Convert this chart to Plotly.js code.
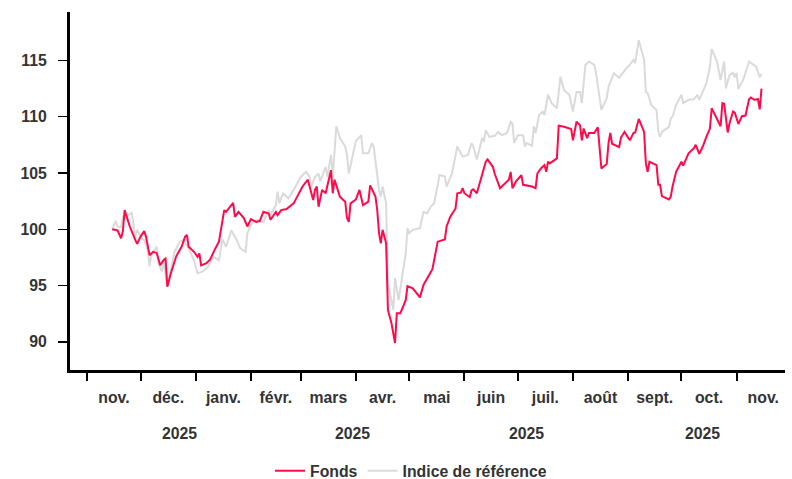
<!DOCTYPE html>
<html>
<head>
<meta charset="utf-8">
<script src="https://cdn.plot.ly/plotly-3.0.1.min.js"></script>
<style>html,body{margin:0;padding:0;background:#fff;}#chart{width:792px;height:479px;}</style>
</head>
<body>
<div id="chart"></div>
<script>
// ---- Data ----
const fondsDates = [
"2024-11-15","2024-11-18","2024-11-20","2024-11-21","2024-11-22","2024-11-25","2024-11-28","2024-11-29",
"2024-12-01","2024-12-03","2024-12-04","2024-12-06","2024-12-08","2024-12-10","2024-12-12","2024-12-14",
"2024-12-15","2024-12-16","2024-12-18","2024-12-21","2024-12-24","2024-12-26","2024-12-27","2024-12-28",
"2024-12-31","2025-01-02","2025-01-03","2025-01-04","2025-01-07","2025-01-09","2025-01-12","2025-01-14",
"2025-01-17","2025-01-18","2025-01-22","2025-01-23","2025-01-25","2025-01-28","2025-01-30","2025-02-01",
"2025-02-04","2025-02-06","2025-02-08","2025-02-11","2025-02-12","2025-02-15","2025-02-16","2025-02-18",
"2025-02-21","2025-02-25","2025-02-27","2025-03-02","2025-03-05","2025-03-07","2025-03-08","2025-03-09",
"2025-03-10","2025-03-11","2025-03-13","2025-03-15","2025-03-18","2025-03-19","2025-03-20","2025-03-21",
"2025-03-23","2025-03-26","2025-03-27","2025-03-28","2025-03-29","2025-04-01","2025-04-03","2025-04-05",
"2025-04-08","2025-04-09","2025-04-12","2025-04-13","2025-04-14","2025-04-15","2025-04-16","2025-04-18",
"2025-04-19","2025-04-21","2025-04-23","2025-04-24","2025-04-26","2025-04-29","2025-04-30","2025-05-03",
"2025-05-07","2025-05-09","2025-05-14","2025-05-17","2025-05-21","2025-05-22","2025-05-24","2025-05-27",
"2025-05-28","2025-05-30","2025-05-31","2025-06-01","2025-06-04","2025-06-05","2025-06-06","2025-06-08",
"2025-06-11","2025-06-13","2025-06-14","2025-06-17","2025-06-18","2025-06-21","2025-06-26","2025-06-27",
"2025-06-28","2025-06-30","2025-07-03","2025-07-04","2025-07-09","2025-07-11","2025-07-12","2025-07-14",
"2025-07-16","2025-07-17","2025-07-18","2025-07-19","2025-07-23","2025-07-24","2025-07-27","2025-07-31",
"2025-08-01","2025-08-03","2025-08-05","2025-08-06","2025-08-07","2025-08-09","2025-08-10","2025-08-13",
"2025-08-15","2025-08-17","2025-08-20","2025-08-21","2025-08-22","2025-08-23","2025-08-27","2025-08-28",
"2025-08-30","2025-09-02","2025-09-04","2025-09-05","2025-09-07","2025-09-10","2025-09-11","2025-09-12",
"2025-09-13","2025-09-17","2025-09-18","2025-09-19","2025-09-20","2025-09-24","2025-09-25","2025-09-26",
"2025-09-28","2025-10-01","2025-10-02","2025-10-05","2025-10-08","2025-10-09","2025-10-11","2025-10-13",
"2025-10-15","2025-10-17","2025-10-18","2025-10-21","2025-10-23","2025-10-24","2025-10-25","2025-10-27",
"2025-10-28","2025-10-30","2025-10-31","2025-11-02","2025-11-04","2025-11-06","2025-11-08","2025-11-09",
"2025-11-11","2025-11-13","2025-11-14","2025-11-15"
];
const fondsValues = [
100.0,99.9,99.2,99.8,101.7,100.2,99.05,98.7,
99.35,99.85,99.35,97.7,98.0,97.9,96.8,97.3,
97.4,94.9,96.1,97.6,98.45,99.35,99.5,98.45,
98.0,97.55,97.85,96.8,97.0,97.3,98.3,98.9,
101.7,101.55,102.35,101.1,101.55,101.0,100.25,100.9,
100.65,100.75,101.55,101.4,100.85,101.55,101.25,101.7,
101.8,102.3,102.9,103.8,104.4,103.2,102.6,103.5,
103.8,102.0,103.5,103.2,105.25,103.2,104.4,103.9,
102.9,102.45,101.0,100.65,102.3,102.65,103.5,102.15,
102.45,103.9,102.9,101.7,99.65,98.75,99.95,98.75,
92.85,91.65,89.9,92.55,92.55,93.7,94.95,94.75,
93.95,95.05,96.45,98.9,99.1,100.25,101.1,101.85,
103.2,103.25,103.65,103.2,102.85,103.45,103.55,103.2,
104.95,106.0,106.2,105.55,104.95,103.65,104.4,105.1,
103.65,104.25,104.8,103.95,103.8,103.65,104.95,105.4,
105.7,105.1,106.0,105.85,106.3,109.2,109.1,108.9,
107.9,109.55,109.25,107.9,108.95,108.1,108.55,108.55,
109.05,105.4,105.8,107.65,108.55,107.6,107.3,108.15,
108.65,107.9,108.55,108.6,109.8,108.65,105.85,105.1,
106.0,105.7,103.95,103.95,102.95,102.65,102.9,103.8,
105.1,106.0,105.65,106.75,107.2,107.5,106.7,107.35,
108.2,108.95,110.75,109.85,109.15,111.2,111.15,108.6,
109.4,110.45,110.35,109.35,110.05,110.1,111.55,111.7,
111.5,111.55,110.65,112.5
];

const indexDates = [
"2024-11-15","2024-11-17","2024-11-18","2024-11-20","2024-11-21","2024-11-23","2024-11-24","2024-11-26",
"2024-11-28","2024-11-29","2024-12-02","2024-12-03","2024-12-05","2024-12-06","2024-12-07","2024-12-10",
"2024-12-11","2024-12-13","2024-12-14","2024-12-16","2024-12-18","2024-12-20","2024-12-23","2024-12-25",
"2024-12-28","2024-12-31","2025-01-02","2025-01-05","2025-01-08","2025-01-11","2025-01-14","2025-01-16",
"2025-01-18","2025-01-21","2025-01-24","2025-01-26","2025-01-29","2025-01-30","2025-02-01","2025-02-02",
"2025-02-05","2025-02-06","2025-02-08","2025-02-11","2025-02-12","2025-02-15","2025-02-16","2025-02-17",
"2025-02-19","2025-02-22","2025-02-25","2025-03-01","2025-03-04","2025-03-06","2025-03-07","2025-03-09",
"2025-03-11","2025-03-12","2025-03-15","2025-03-16","2025-03-18","2025-03-19","2025-03-21","2025-03-23",
"2025-03-26","2025-03-27","2025-03-28","2025-03-30","2025-04-01","2025-04-04","2025-04-05","2025-04-08",
"2025-04-10","2025-04-11","2025-04-14","2025-04-15","2025-04-16","2025-04-18","2025-04-19","2025-04-22",
"2025-04-23","2025-04-25","2025-04-27","2025-04-29","2025-04-30","2025-05-01","2025-05-03","2025-05-07",
"2025-05-09","2025-05-11","2025-05-13","2025-05-15","2025-05-18","2025-05-21","2025-05-22","2025-05-25",
"2025-05-28","2025-05-30","2025-05-31","2025-06-03","2025-06-05","2025-06-06","2025-06-08","2025-06-11",
"2025-06-12","2025-06-13","2025-06-15","2025-06-18","2025-06-20","2025-06-22","2025-06-25","2025-06-27",
"2025-06-28","2025-06-29","2025-07-01","2025-07-04","2025-07-05","2025-07-06","2025-07-09","2025-07-10",
"2025-07-11","2025-07-13","2025-07-15","2025-07-16","2025-07-18","2025-07-20","2025-07-23","2025-07-25",
"2025-07-27","2025-07-30","2025-08-01","2025-08-03","2025-08-05","2025-08-06","2025-08-08","2025-08-10",
"2025-08-13","2025-08-14","2025-08-17","2025-08-20","2025-08-21","2025-08-24","2025-08-27","2025-08-31",
"2025-09-02","2025-09-04","2025-09-05","2025-09-07","2025-09-10","2025-09-11","2025-09-12","2025-09-14",
"2025-09-17","2025-09-18","2025-09-19","2025-09-20","2025-09-24","2025-09-25","2025-09-26","2025-09-28",
"2025-10-01","2025-10-02","2025-10-05","2025-10-08","2025-10-10","2025-10-11","2025-10-15","2025-10-17",
"2025-10-18","2025-10-21","2025-10-23","2025-10-25","2025-10-26","2025-10-28","2025-10-30","2025-10-31",
"2025-11-01","2025-11-02","2025-11-05","2025-11-08","2025-11-12","2025-11-14","2025-11-15"
];
const indexValues = [
100.0,100.75,100.25,100.2,101.1,101.05,101.25,101.45,
99.35,99.95,99.1,99.05,98.15,96.7,97.7,98.45,
97.0,96.25,97.25,94.95,96.4,98.0,98.9,99.05,
98.3,97.25,96.1,96.25,96.7,97.55,97.25,99.1,
98.45,99.9,99.05,98.3,98.0,99.65,100.4,100.55,
100.85,100.65,100.65,101.7,101.25,102.15,103.35,102.3,
103.2,102.75,103.5,104.65,105.1,104.65,103.8,104.65,
104.95,104.25,105.55,104.65,106.6,104.65,109.15,108.1,
107.35,106.6,104.95,106.45,107.85,108.35,106.75,106.75,
107.65,107.35,103.5,102.9,103.8,102.3,95.2,92.85,
95.65,93.7,95.8,97.85,100.1,99.65,99.95,100.1,
101.55,101.4,102.0,102.3,104.8,104.7,103.8,104.95,
107.35,106.75,106.45,106.6,107.65,107.35,106.2,108.1,
107.8,108.8,108.2,108.3,108.65,108.35,108.55,109.55,
109.4,107.65,108.35,108.35,107.35,107.65,107.4,109.15,
108.55,110.15,110.45,110.15,111.95,111.2,110.75,113.55,
112.35,111.95,110.45,112.2,112.2,111.2,114.6,114.9,
114.6,113.85,110.6,111.65,112.65,113.85,113.45,114.3,
114.6,115.05,114.75,116.8,115.05,112.2,112.1,111.05,
110.6,108.65,108.2,108.65,109.1,109.85,110.0,111.05,
111.95,111.2,111.5,111.55,111.95,111.5,112.95,114.45,
116.0,114.9,113.25,114.9,112.5,113.7,113.9,113.5,
113.9,112.45,113.4,114.9,114.45,113.5,113.8
];

// Axis ticks / labels
const monthStarts = ["2024-11-01","2024-12-01","2025-01-01","2025-02-01","2025-03-01","2025-04-01","2025-05-01",
  "2025-06-01","2025-07-01","2025-08-01","2025-09-01","2025-10-01","2025-11-01","2025-12-01"];
const monthLabels = ["nov.","déc.","janv.","févr.","mars","avr.","mai","juin","juil.","août","sept.","oct.","nov."];
const yearLabel = "2025";
const yearLabelDates = ["2024-12-23","2025-03-30","2025-07-06","2025-10-13"];
const yTicks = [90, 95, 100, 105, 110, 115];

// mid-month label positions (centre of each month period)
function mid(a, b) {
  const t = (new Date(a + "T00:00:00Z").getTime() + new Date(b + "T00:00:00Z").getTime()) / 2;
  return new Date(t).toISOString().slice(0, 19).replace("T", " ");
}
const labelPositions = monthLabels.map((_, i) => mid(monthStarts[i], monthStarts[i + 1]));

const FONT = {family: "Arial, 'Liberation Sans', Helvetica, sans-serif", size: 15.8, color: "#333333", weight: "bold"};

const traces = [
  {x: indexDates, y: indexValues, type: "scatter", mode: "lines", name: "Indice de référence",
   line: {color: "#dadada", width: 2}, legendrank: 2, hoverinfo: "skip"},
  {x: fondsDates, y: fondsValues, type: "scatter", mode: "lines", name: "Fonds",
   line: {color: "#ff0a4a", width: 2}, legendrank: 1, hoverinfo: "skip"}
];

const layout = {
  width: 792, height: 479,
  margin: {l: 70, r: 7, t: 12, b: 109, autoexpand: false},
  paper_bgcolor: "#ffffff", plot_bgcolor: "#ffffff",
  font: FONT,
  showlegend: true,
  legend: {orientation: "h", x: 0.2797, xanchor: "left", y: -0.282, yanchor: "middle",
           font: FONT, itemwidth: 30, traceorder: "normal"},
  xaxis: {
    type: "date",
    range: ["2024-10-22 07:00", "2025-11-28 05:00"],
    tickmode: "array", tickvals: labelPositions, ticktext: monthLabels,
    ticks: "", ticklabelstandoff: 11,
    tickfont: FONT,
    minor: {tickmode: "array", tickvals: monthStarts, ticks: "outside", ticklen: 8, tickwidth: 2, tickcolor: "#000", showgrid: false},
    showline: true, linecolor: "#000", linewidth: 3,
    showgrid: false, zeroline: false, fixedrange: true, automargin: false
  },
  yaxis: {
    range: [87.5, 119.3],
    tickmode: "array", tickvals: yTicks,
    ticks: "outside", ticklen: 9, tickwidth: 1.5, tickcolor: "#000",
    ticklabelstandoff: 8,
    tickfont: FONT,
    showline: true, linecolor: "#000", linewidth: 3,
    showgrid: false, zeroline: false, fixedrange: true, automargin: false
  },
  annotations: yearLabelDates.map(d => ({
    x: d, xref: "x", y: -0.176, yref: "paper", text: yearLabel, showarrow: false,
    xanchor: "center", yanchor: "middle", font: FONT
  }))
};

Plotly.newPlot("chart", traces, layout, {displayModeBar: false, staticPlot: true});
</script>
</body>
</html>
